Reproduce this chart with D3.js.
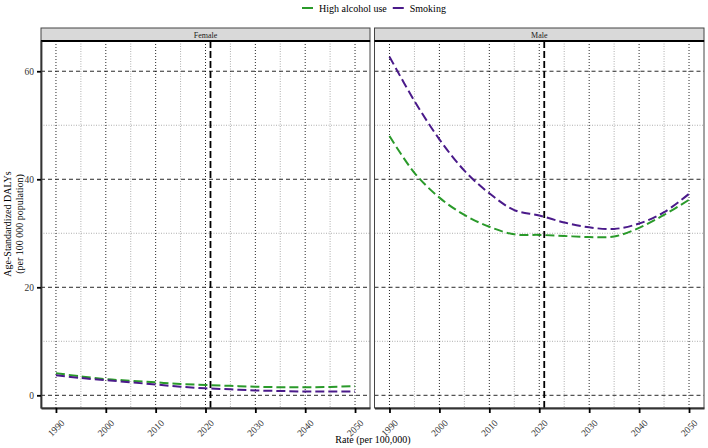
<!DOCTYPE html>
<html><head><meta charset="utf-8">
<script src="https://cdn.jsdelivr.net/npm/d3@7"></script>
<style>body{margin:0;background:#fff}</style>
</head><body><svg id="c" width="708" height="448" font-family="Liberation Serif, serif"></svg>
<script>
const years = [1990,1995,2000,2005,2010,2015,2020,2025,2030,2035,2040,2045,2050];
const sexes = ["Female","Male"];
const seriesNames = ["High alcohol use","Smoking"];
const femaleAlcohol = [4.1,3.5,3.0,2.7,2.4,2.1,1.9,1.75,1.6,1.5,1.5,1.55,1.7];
const femaleSmoking = [3.7,3.2,2.8,2.4,2.0,1.6,1.3,1.1,0.9,0.8,0.7,0.7,0.7];
const maleAlcohol = [48.0,41.2,36.6,33.4,31.2,29.8,29.7,29.5,29.3,29.4,31.0,33.4,36.2];
const maleSmoking = [62.7,54.5,47.4,41.6,37.4,34.3,33.3,32.0,31.1,30.8,31.8,33.9,37.3];
const xTicks = [1990,2000,2010,2020,2030,2040,2050];
const xMinor = [1995,2005,2015,2025,2035,2045];
const yTicks = [0,20,40,60];
const yMinor = [10,30,50];
const refYear = 2021;
const colors = {"High alcohol use":"#2a9a2a","Smoking":"#4a1a8a"};
const dataBySex = {
  Female: {"High alcohol use": femaleAlcohol, "Smoking": femaleSmoking},
  Male: {"High alcohol use": maleAlcohol, "Smoking": maleSmoking}
};
const FONT = "Liberation Serif, serif";

const svg = d3.select("#c");
const panelTop = 41, panelBottom = 408, stripTop = 28;
const panels = [{sex:"Female", x0:41, x1:370},{sex:"Male", x0:374.5, x1:704}];
const y = d3.scaleLinear().domain([-2.35,65.6]).range([panelBottom,panelTop]);

panels.forEach(p=>{
  const x = d3.scaleLinear().domain([1987,2053]).range([p.x0,p.x1]);
  const g = svg.append("g");
  xMinor.forEach(v=>g.append("line").attr("x1",x(v)).attr("x2",x(v)).attr("y1",panelTop).attr("y2",panelBottom)
    .attr("stroke","#9a9a9a").attr("stroke-width",0.8).attr("stroke-dasharray","1,1.5"));
  yMinor.forEach(v=>g.append("line").attr("x1",p.x0).attr("x2",p.x1).attr("y1",y(v)).attr("y2",y(v))
    .attr("stroke","#9a9a9a").attr("stroke-width",0.8).attr("stroke-dasharray","1,1.5"));
  xTicks.forEach(v=>g.append("line").attr("x1",x(v)).attr("x2",x(v)).attr("y1",panelTop).attr("y2",panelBottom)
    .attr("stroke","#111").attr("stroke-width",0.9).attr("stroke-dasharray","1,2"));
  yTicks.forEach(v=>g.append("line").attr("x1",p.x0).attr("x2",p.x1).attr("y1",y(v)).attr("y2",y(v))
    .attr("stroke","#111").attr("stroke-width",0.9).attr("stroke-dasharray","4,3"));
  seriesNames.forEach(s=>{
    const vals = dataBySex[p.sex][s];
    const line = d3.line().x((d,i)=>x(years[i])).y(d=>y(d)).curve(d3.curveCatmullRom.alpha(0.5));
    g.append("path").attr("d",line(vals)).attr("fill","none").attr("stroke",colors[s])
      .attr("stroke-width",2).attr("stroke-dasharray","9,4");
  });
  g.append("line").attr("x1",x(refYear)).attr("x2",x(refYear)).attr("y1",panelTop).attr("y2",panelBottom)
    .attr("stroke","#000").attr("stroke-width",1.8).attr("stroke-dasharray","7,3");
  g.append("rect").attr("x",p.x0).attr("y",panelTop).attr("width",p.x1-p.x0).attr("height",panelBottom-panelTop)
    .attr("fill","none").attr("stroke","#444").attr("stroke-width",1);
  g.append("rect").attr("x",p.x0).attr("y",stripTop).attr("width",p.x1-p.x0).attr("height",panelTop-stripTop)
    .attr("fill","#d9d9d9").attr("stroke","#444").attr("stroke-width",1);
  g.append("line").attr("x1",p.x0).attr("x2",p.x1).attr("y1",panelTop).attr("y2",panelTop).attr("stroke","#000").attr("stroke-width",2);
  g.append("text").attr("x",(p.x0+p.x1)/2).attr("y",(stripTop+panelTop)/2+3).attr("text-anchor","middle")
    .attr("font-family",FONT).attr("font-size",8).attr("fill","#1a1a1a").text(p.sex);
  const xa = d3.axisBottom(x).tickValues(xTicks).tickFormat(d3.format("d")).tickSize(5).tickSizeOuter(0);
  const ax = svg.append("g").attr("transform",`translate(0,${panelBottom})`).call(xa).attr("font-family",FONT);
  ax.select(".domain").attr("stroke","#333").attr("stroke-width",1.8);
  ax.selectAll(".tick line").attr("stroke","#000").attr("stroke-width",1.8);
  ax.selectAll(".tick text").attr("font-family",FONT).attr("font-size",9.5).attr("fill","#333")
    .attr("text-anchor","end").attr("dy",0).attr("transform","translate(3,10) rotate(-45)");
  if(p.sex==="Female"){
    const ya = d3.axisLeft(y).tickValues(yTicks).tickSize(4).tickSizeOuter(0);
    const ay = svg.append("g").attr("transform",`translate(${p.x0},0)`).call(ya).attr("font-family",FONT);
    ay.select(".domain").attr("stroke","#333").attr("stroke-width",1.8);
    ay.selectAll(".tick line").attr("stroke","#000").attr("stroke-width",1.8);
    ay.selectAll(".tick text").attr("font-family",FONT).attr("font-size",9.5).attr("fill","#333");
  }
});

svg.append("text").attr("transform","translate(11,224) rotate(-90)").attr("text-anchor","middle")
  .attr("font-family",FONT).attr("font-size",10).text("Age-Standardized DALYs");
svg.append("text").attr("transform","translate(23,224) rotate(-90)").attr("text-anchor","middle")
  .attr("font-family",FONT).attr("font-size",10).text("(per 100 000 population)");
svg.append("text").attr("x",373).attr("y",443).attr("text-anchor","middle").attr("font-family",FONT)
  .attr("font-size",10).text("Rate (per 100,000)");

const lg = svg.append("g");
let lx = 302;
seriesNames.forEach(s=>{
  lg.append("line").attr("x1",lx).attr("x2",lx+11).attr("y1",8).attr("y2",8).attr("stroke",colors[s]).attr("stroke-width",2);
  const t = lg.append("text").attr("x",lx+17).attr("y",11.5).attr("font-family",FONT).attr("font-size",10).text(s);
  lx += 17 + t.node().getComputedTextLength() + 6;
});
</script></body></html>
